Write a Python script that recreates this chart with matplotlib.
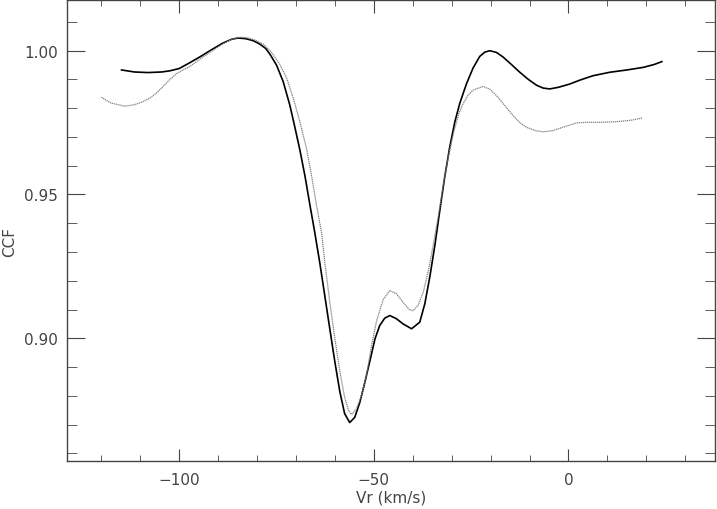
import matplotlib
matplotlib.use("Agg")
from matplotlib import pyplot as plt
from matplotlib.ticker import MultipleLocator

# solid curve, values
vr_solid = [-114.8, -111.5, -108.0, -104.5, -102.4, -100.0, -97.3, -94.5, -92.1, -89.0,
            -86.5, -84.9, -83.0, -81.0, -79.3, -77.8, -76.7, -75.0, -73.3, -71.6,
            -70.3, -69.0, -67.7, -66.5, -65.2, -63.9, -62.6, -61.3, -60.0, -58.7,
            -57.5, -56.2, -54.9, -53.6, -52.3, -51.0, -49.7, -48.5, -47.2, -45.9,
            -44.2, -42.5, -40.3, -38.2, -36.9, -35.6, -34.3, -33.1, -31.8, -30.5,
            -29.2, -27.9, -26.2, -24.5, -22.8, -21.5, -20.2, -18.5, -16.8, -14.5,
            -12.5, -10.3, -8.2, -6.5, -4.8, -2.5, 0.3, 3.0, 6.3, 10.6,
            15.0, 19.2, 22.0, 24.0]
ccf_solid = [0.9933, 0.9926, 0.9924, 0.9926, 0.9930, 0.9938, 0.9958, 0.9980, 1.0000, 1.0025,
             1.0040, 1.0044, 1.0042, 1.0035, 1.0023, 1.0008, 0.9988, 0.9950, 0.9893, 0.9812,
             0.9735, 0.9655, 0.9565, 0.9470, 0.9370, 0.9264, 0.9148, 0.9032, 0.8917, 0.8812,
             0.8738, 0.8707, 0.8725, 0.8777, 0.8847, 0.8922, 0.8998, 0.9044, 0.9070, 0.9079,
             0.9068, 0.9050, 0.9033, 0.9056, 0.9120, 0.9215, 0.9325, 0.9440, 0.9560, 0.9665,
             0.9752, 0.9818, 0.9885, 0.9940, 0.9980, 0.9995, 1.0000, 0.9994, 0.9978, 0.9950,
             0.9925, 0.9900, 0.9880, 0.9870, 0.9867, 0.9873, 0.9884, 0.9898, 0.9913, 0.9925,
             0.9933, 0.9942, 0.9952, 0.9962]

# dotted curve
vr_dot = [-120.0, -117.5, -114.0, -111.5, -109.5, -107.5, -105.5, -104.1, -102.4, -100.7,
          -99.0, -97.3, -94.5, -92.0, -89.0, -86.5, -84.4, -82.5, -80.5, -78.4,
          -76.5, -74.2, -72.4, -70.7, -69.0, -67.3, -66.0, -64.7, -63.4, -62.6,
          -61.3, -60.0, -58.7, -57.5, -56.5, -55.7, -54.5, -53.2, -51.9, -50.6,
          -49.3, -47.6, -45.9, -44.2, -42.5, -40.9, -39.9, -38.6, -37.3, -36.0,
          -34.8, -33.5, -32.2, -30.9, -29.5, -28.2, -27.1, -25.8, -24.5, -21.9,
          -20.2, -18.5, -16.4, -14.2, -12.5, -10.8, -8.5, -6.5, -4.0, -1.4,
          2.1, 5.0, 8.0, 12.3, 16.0, 19.0]
ccf_dot = [0.9838, 0.9818, 0.9807, 0.9812, 0.9822, 0.9835, 0.9857, 0.9876, 0.9900, 0.9920,
           0.9933, 0.9945, 0.9972, 0.9995, 1.0022, 1.0040, 1.0047, 1.0045, 1.0037, 1.0023,
           0.9998, 0.9954, 0.9905, 0.9835, 0.9753, 0.9660, 0.9565, 0.9461, 0.9365, 0.9264,
           0.9125, 0.8998, 0.8882, 0.8795, 0.8750, 0.8735, 0.8754, 0.8800, 0.8870, 0.8974,
           0.9060, 0.9135, 0.9166, 0.9155, 0.9125, 0.9100, 0.9096, 0.9115, 0.9160, 0.9235,
           0.9320, 0.9420, 0.9530, 0.9630, 0.9715, 0.9780, 0.9815, 0.9845, 0.9863, 0.9876,
           0.9866, 0.9844, 0.9810, 0.9774, 0.9750, 0.9734, 0.9722, 0.9718, 0.9722, 0.9734,
           0.9749, 0.9751, 0.9751, 0.9753, 0.9758, 0.9766]

plt.rcParams['font.family'] = ['DejaVu Sans']

fig = plt.figure(figsize=(7.17, 5.10), dpi=100)
ax = fig.add_axes([0.093, 0.094, 0.904, 0.905])

ax.plot(vr_solid, ccf_solid, color="black", lw=1.2)
ax.plot(vr_dot, ccf_dot, color="#808080", lw=0.9, linestyle=(0, (1, 0.6)))

ax.set_xlim(-128.9, 37.6)
ax.set_ylim(0.8573, 1.0178)

ax.xaxis.set_major_locator(MultipleLocator(50))
ax.xaxis.set_minor_locator(MultipleLocator(10))
ax.yaxis.set_major_locator(MultipleLocator(0.05))
ax.yaxis.set_minor_locator(MultipleLocator(0.01))
ax.yaxis.set_major_formatter(plt.FormatStrFormatter("%.2f"))

axis_col = "#444444"
for s in ax.spines.values():
    s.set_color(axis_col)
    s.set_linewidth(1.0)
ax.tick_params(which="both", direction="in", top=True, right=True,
               colors=axis_col, labelcolor="#444444", labelsize=11)
ax.tick_params(axis="y", which="major", length=13, pad=6)
ax.tick_params(axis="y", which="minor", length=7)
ax.tick_params(axis="x", which="major", length=9, pad=8)
ax.tick_params(axis="x", which="minor", length=4)

ax.set_xlabel("Vr (km/s)", fontsize=11, color="#444444", labelpad=2)
# y label placed by hand so it stays inside the narrow left margin
fig.text(0.013, 0.525, "CCF", rotation=90, ha="center", va="center",
         fontsize=11, color="#444444")

fig.savefig("out.png", dpi=100)
